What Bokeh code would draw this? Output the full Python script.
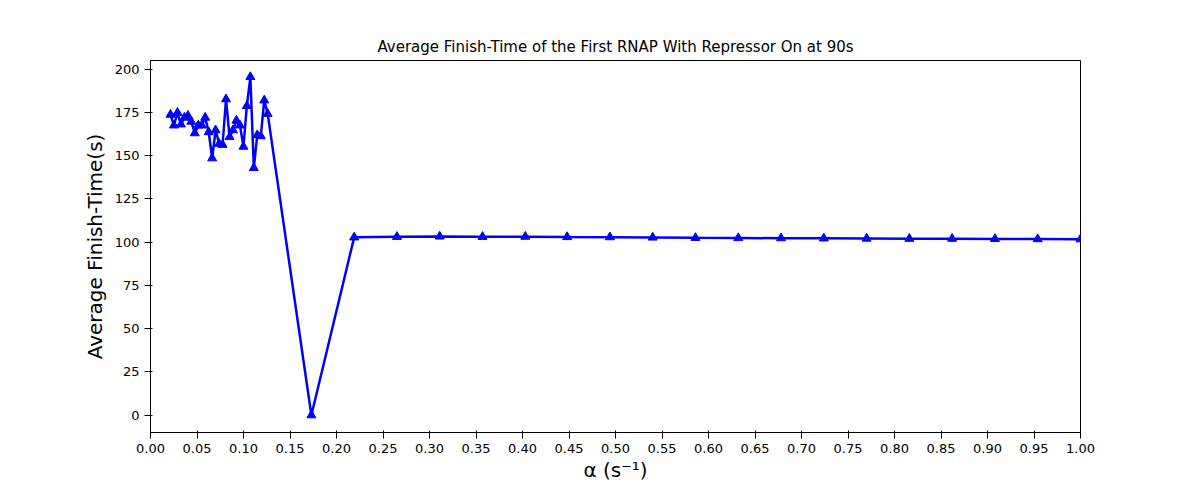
from bokeh.plotting import figure
from bokeh.models import Range1d, FixedTicker, NumeralTickFormatter
from bokeh.embed import file_html
from bokeh.resources import INLINE

# dense low-alpha region
alpha_low = [0.0215, 0.0252, 0.0290, 0.0327, 0.0364, 0.0402, 0.0439, 0.0476, 0.0514, 0.0551,
             0.0588, 0.0626, 0.0663, 0.0700, 0.0738, 0.0775, 0.0812, 0.0850, 0.0887, 0.0924,
             0.0962, 0.0999, 0.1036, 0.1074, 0.1111, 0.1148, 0.1186, 0.1223, 0.1260]
finish_low = [173.7, 167.5, 174.8, 168.1, 172.0, 173.1, 169.7, 163.0, 167.5, 167.5,
              172.0, 163.6, 148.5, 164.7, 156.9, 156.3, 182.6, 160.8, 164.7, 170.3,
              167.5, 155.2, 178.7, 195.5, 142.9, 161.9, 161.3, 182.0, 174.2]
# sparse high-alpha region
alpha_high = [0.173, 0.219, 0.265, 0.311, 0.357, 0.403, 0.448, 0.494, 0.540, 0.586,
              0.632, 0.678, 0.724, 0.770, 0.816, 0.862, 0.908, 0.954, 1.000]
finish_high = [0.0, 102.8, 103.1, 103.3, 103.1, 103.2, 103.0, 102.9, 102.7, 102.5,
               102.4, 102.3, 102.2, 102.1, 102.0, 102.0, 101.9, 101.8, 101.7]

alpha = alpha_low + alpha_high
finish = finish_low + finish_high

p = figure(width=1184, height=484, output_backend="svg", toolbar_location=None,
           title="Average Finish-Time of the First RNAP With Repressor On at 90s",
           x_range=Range1d(0, 1), y_range=Range1d(-10, 205),
           min_border_left=150, min_border_right=104, min_border_top=60, min_border_bottom=39)
p.title.align = "center"
p.title.text_font = "DejaVu Sans"
p.title.text_font_size = "15px"
p.title.text_font_style = "normal"
p.title.text_color = "black"

p.line(alpha, finish, line_width=2.5, color="blue")
p.scatter(alpha, finish, marker="triangle", size=9, color="blue")

p.xaxis.ticker = FixedTicker(ticks=[i * 0.05 for i in range(21)])
p.xaxis.formatter = NumeralTickFormatter(format="0.00")
p.yaxis.ticker = FixedTicker(ticks=[0, 25, 50, 75, 100, 125, 150, 175, 200])
p.xaxis.axis_label = "α (s⁻¹)"
p.yaxis.axis_label = "Average Finish-Time(s)"
for ax in (p.xaxis[0], p.yaxis[0]):
    ax.axis_label_text_font = "DejaVu Sans"
    ax.axis_label_text_font_size = "20px"
    ax.axis_label_text_font_style = "normal"
    ax.axis_label_text_color = "black"
    ax.major_label_text_font = "DejaVu Sans"
    ax.major_label_text_font_size = "13px"
    ax.major_label_text_color = "black"
    ax.minor_tick_line_color = None
    ax.axis_line_color = "black"
    ax.major_tick_line_color = "black"
p.xaxis.axis_label_standoff = 2
p.grid.grid_line_color = None
p.outline_line_color = "black"

open("out.html", "w").write(file_html(p, INLINE))
